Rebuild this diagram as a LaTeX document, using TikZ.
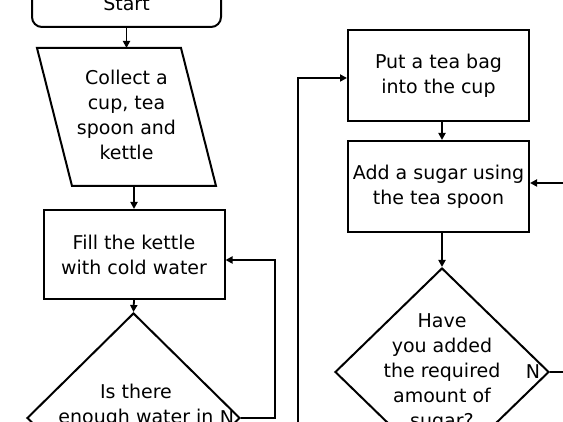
\documentclass[tikz,border=0pt]{standalone}
\usepackage{fontspec}
\setmainfont{DejaVu Sans}
\usetikzlibrary{arrows.meta,shapes.geometric}
\begin{document}
\begin{tikzpicture}[x=1pt,y=-1pt,
  shapeline/.style={draw, line width=2pt},
  txt/.style={font=\fontsize{19}{25}\selectfont, align=center, inner sep=0pt},
  procbox/.style={shapeline, txt, minimum width=181pt, minimum height=90pt},
  startbox/.style={shapeline, txt, rounded corners=10pt, minimum width=189pt, minimum height=46pt},
  decision/.style={shapeline, diamond, inner sep=0pt, minimum width=213pt, minimum height=210pt},
  conn/.style={line width=1.8pt, -{Triangle[length=7pt,width=7pt]}},
  plainconn/.style={line width=1.8pt}]
\useasboundingbox (0,0) rectangle (563,422);
\clip (0,0) rectangle (563,422);
% start
\node[startbox] (start) at (126.5,4) {Start};
% parallelogram
\coordinate (p1) at (37,48);
\coordinate (p2) at (181,48);
\coordinate (p3) at (216,186);
\coordinate (p4) at (72,186);
\coordinate (ptop) at (126.5,48);
\coordinate (pbot) at (134,186);
\draw[shapeline, line join=miter] (p1) -- (p2) -- (p3) -- (p4) -- cycle;
\node[txt] (collect) at (126.5,115) {Collect a\\cup, tea\\spoon and\\kettle};
% fill box
\node[procbox, minimum height=89pt] (fill) at (134,254.5) {Fill the kettle\\with cold water};
% decision 1
\node[decision] (q1) at (133.5,418) {};
\node[txt] (q1text) at (136,405.5) {Is there\\enough water in};
\node[txt] (n1) at (227,418) {N};
% right column
\node[procbox, minimum height=91pt] (put) at (438.5,75.5) {Put a tea bag\\into the cup};
\node[procbox, minimum height=91pt] (add) at (438.5,186.5) {Add a sugar using\\the tea spoon};
\node[decision, minimum width=214pt, minimum height=208pt] (q2) at (442,372) {};
\node[txt] (q2text) at (442,373) {Have\\you added\\the required\\amount of\\sugar?};
\node[txt] (n2) at (533,372) {N};
% connectors
\coordinate (loopx) at (275,418);
\coordinate (lb) at (298,440);
\coordinate (addin) at (580,183);
\coordinate (q2out) at (580,372);
\draw[conn] (start.south) -- (ptop);
\draw[conn] (pbot) -- (fill.north);
\draw[conn] (fill.south) -- (q1.north);
\draw[conn] (q1.east) -- (loopx) |- ([yshift=-5.5pt]fill.east);
\draw[conn] (lb) |- ([yshift=-2.5pt]put.west);
\draw[conn] ([xshift=3.5pt]put.south) -- ([xshift=3.5pt]add.north);
\draw[conn] (addin) -- ([yshift=3.5pt]add.east);
\draw[conn] ([xshift=3.5pt]add.south) -- (q2.north);
\draw[plainconn] (q2.east) -- (q2out);
\end{tikzpicture}
\end{document}
